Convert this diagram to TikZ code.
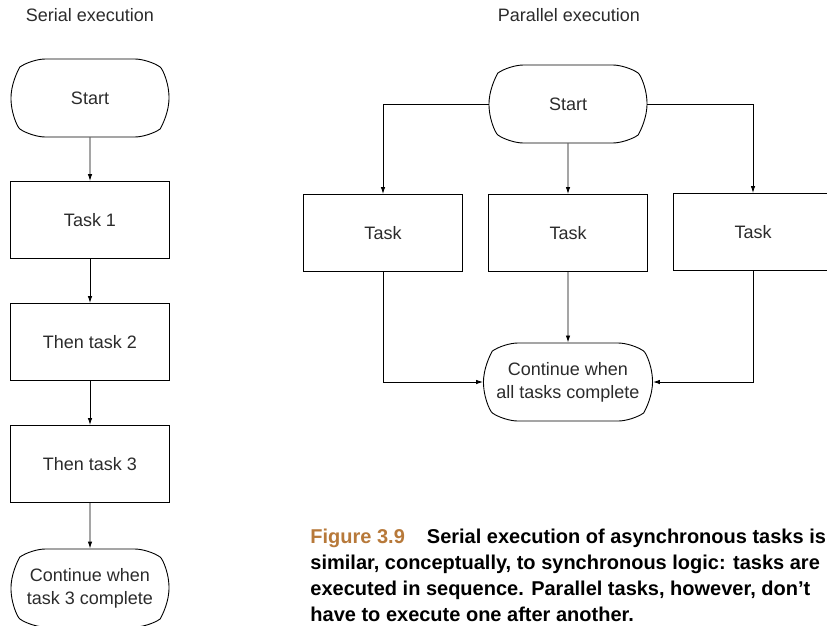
\documentclass[tikz,border=0pt]{standalone}
\usepackage{fontspec}
\setmainfont{Liberation Sans}
\usetikzlibrary{shapes.misc,arrows.meta}
\definecolor{figorange}{HTML}{B7793A}
\definecolor{inkgray}{HTML}{2B2B2B}

\begin{document}
\begin{tikzpicture}[x=1pt,y=-1pt,line width=0.9pt,>={Latex[length=7pt,width=4.5pt]},
    font=\fontsize{18}{23}\selectfont]
    \tikzstyle{terminal} = [draw,rounded rectangle,rounded rectangle arc length=110,rounded corners=14pt,minimum width=158pt,minimum height=78pt,align=center,inner sep=0pt,text=inkgray]
    \tikzstyle{taskbox} = [draw,rectangle,minimum width=159pt,minimum height=77pt,inner sep=0pt,text=inkgray]
    \tikzstyle{heading} = [inner sep=0pt,text=inkgray]
        \useasboundingbox (0,0) rectangle (827,625);
        % serial side
        \node[heading] (sertitle) at (90,15) {Serial execution};
        \node[terminal] (sstart) at (90,98) {Start};
        \node[taskbox] (task1) at (90,220) {Task 1};
        \node[taskbox] (task2) at (90,342) {Then task 2};
        \node[taskbox] (task3) at (90,464) {Then task 3};
        \node[terminal] (sdone) at (90,588) {Continue when\\task 3 complete};
        \draw[->] (sstart) -- (task1);
        \draw[->] (task1) -- (task2);
        \draw[->] (task2) -- (task3);
        \draw[->] (task3) -- (sdone);
        % parallel side
        \node[heading] (partitle) at (569,15) {Parallel execution};
        \node[terminal] (pstart) at (568,104) {Start};
        \node[taskbox] (ptask1) at (383,233) {Task};
        \node[taskbox] (ptask2) at (568,233) {Task};
        \node[taskbox] (ptask3) at (753,232) {Task};
        \node[terminal,minimum width=169pt] (pdone) at (568,382) {Continue when\\all tasks complete};
        \draw[->] (pstart.west) -| (ptask1.north);
        \draw[->] (pstart) -- (ptask2);
        \draw[->] (pstart.east) -| (ptask3.north);
        \draw[->] (ptask1.south) |- (pdone.west);
        \draw[->] (ptask2) -- (pdone);
        \draw[->] (ptask3.south) |- (pdone.east);
        % caption
        \node[anchor=north west,align=left,inner sep=0pt,font=\bfseries\fontsize{20}{25.7}\selectfont] (caption) at (310,529)
            {\textcolor{figorange}{Figure 3.9}\hspace{22pt}Serial execution of asynchronous tasks is\\
             similar, conceptually, to synchronous logic: tasks are\\
             executed in sequence. Parallel tasks, however, don’t\\
             have to execute one after another.};
    \end{tikzpicture}
\end{document}
